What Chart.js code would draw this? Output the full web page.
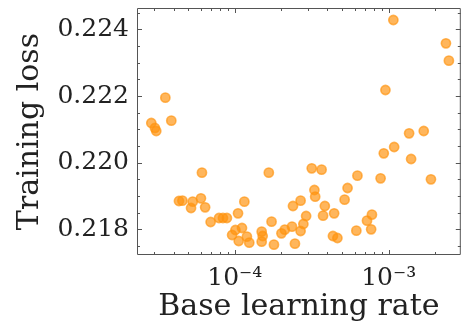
<!DOCTYPE html>
<html>
<head>
<meta charset="utf-8">
<script src="https://cdn.jsdelivr.net/npm/chart.js@4"></script>
<style>
  html, body { margin: 0; padding: 0; background: #fff; }
  #wrap { width: 467px; height: 325px; }
</style>
</head>
<body>
<div id="wrap"><canvas id="lossChart" width="467" height="325"></canvas></div>
<script>
// base learning rate (x) vs training loss (y)
const learningRates = [
  2.87e-5, 3.03e-5, 3.09e-5, 3.54e-5, 3.87e-5, 6.12e-5, 4.34e-5, 4.57e-5, 5.33e-5, 5.20e-5,
  6.03e-5, 6.42e-5, 6.97e-5, 7.90e-5, 8.38e-5, 8.89e-5, 1.050e-4, 1.154e-4, 9.61e-5, 1.010e-4,
  1.114e-4, 1.061e-4, 1.199e-4, 1.242e-4, 1.496e-4, 1.518e-4, 1.496e-4, 1.734e-4, 1.797e-4, 1.664e-4,
  2.010e-4, 2.113e-4, 2.354e-4, 2.389e-4, 2.460e-4, 2.677e-4, 2.677e-4, 2.790e-4, 2.908e-4, 3.162e-4,
  3.665e-4, 3.291e-4, 3.330e-4, 3.847e-4, 3.746e-4, 4.421e-4, 4.343e-4, 4.642e-4, 5.170e-4, 5.404e-4,
  6.264e-4, 6.163e-4, 7.228e-4, 7.780e-4, 7.690e-4, 8.858e-4, 9.290e-4, 1.085e-3, 1.357e-3, 1.689e-3,
  1.398e-3, 1.881e-3, 9.524e-4, 1.072e-3, 2.354e-3, 2.460e-3
];
const trainingLoss = [
  0.22119, 0.22104, 0.22095, 0.22195, 0.22126, 0.21970, 0.21885, 0.21886, 0.21883, 0.21864,
  0.21893, 0.21866, 0.21822, 0.21834, 0.21834, 0.21834, 0.21848, 0.21883, 0.21783, 0.21798,
  0.21804, 0.21765, 0.21778, 0.21760, 0.21793, 0.21780, 0.21763, 0.21823, 0.21754, 0.21970,
  0.21788, 0.21799, 0.21808, 0.21870, 0.21757, 0.21886, 0.21795, 0.21816, 0.21840, 0.21983,
  0.21979, 0.21918, 0.21898, 0.21870, 0.21841, 0.21848, 0.21780, 0.21774, 0.21889, 0.21924,
  0.21961, 0.21796, 0.21826, 0.21844, 0.21800, 0.21953, 0.22028, 0.22047, 0.22088, 0.22095,
  0.22011, 0.21950, 0.22218, 0.22428, 0.22358, 0.22306
];

const xMajorTicks = [1e-4, 1e-3];
const xTickLabels = ['10\u207B\u2074', '10\u207B\u00B3'];
const yMajorTicks = [0.218, 0.220, 0.222, 0.224];

const X_MIN = 2.317e-5, X_MAX = 2.94e-3;
const Y_MIN = 0.21723, Y_MAX = 0.22464;

const points = learningRates.map((lr, i) => ({ x: lr, y: trainingLoss[i] }));

// matplotlib-style frame with inward ticks on every side
const frameTicks = {
  id: 'frameTicks',
  afterDraw(chart) {
    const { ctx, chartArea: a, scales } = chart;
    const xs = scales.x, ys = scales.y;
    ctx.save();
    ctx.strokeStyle = '#555';
    ctx.lineWidth = 1;
    ctx.beginPath();
    ctx.rect(a.left + 0.5, a.top + 0.5, a.right - a.left - 1, a.bottom - a.top - 1);
    ctx.stroke();

    function vTick(v, len) {
      const px = Math.round(xs.getPixelForValue(v)) + 0.5;
      if (px < a.left || px > a.right) return;
      ctx.moveTo(px, a.bottom); ctx.lineTo(px, a.bottom - len);
      ctx.moveTo(px, a.top); ctx.lineTo(px, a.top + len);
    }
    function hTick(v, len) {
      const py = Math.round(ys.getPixelForValue(v)) + 0.5;
      if (py < a.top || py > a.bottom) return;
      ctx.moveTo(a.left, py); ctx.lineTo(a.left + len, py);
      ctx.moveTo(a.right, py); ctx.lineTo(a.right - len, py);
    }
    ctx.beginPath();
    for (let k = -5; k <= -3; k++) {
      for (let m = 1; m <= 9; m++) {
        const v = m * Math.pow(10, k);
        if (v < X_MIN || v > X_MAX) continue;
        vTick(v, m === 1 ? 5 : 3);
      }
    }
    for (let v = 0.2175; v <= Y_MAX + 1e-9; v += 0.0005) {
      const major = yMajorTicks.some(t => Math.abs(t - v) < 1e-7);
      hTick(v, major ? 5 : 3);
    }
    ctx.stroke();
    ctx.restore();
  }
};

const serif = "'DejaVu Serif', 'Liberation Serif', serif";

new Chart(document.getElementById('lossChart').getContext('2d'), {
  type: 'scatter',
  data: {
    datasets: [{
      label: 'runs',
      data: points,
      pointRadius: 4.6,
      pointBorderWidth: 1.6,
      backgroundColor: 'rgba(255, 148, 15, 0.68)',
      borderColor: 'rgba(255, 148, 15, 0.68)'
    }]
  },
  options: {
    responsive: false,
    animation: false,
    events: [],
    layout: { padding: { left: 0, right: 2, top: 8, bottom: 0 } },
    plugins: {
      legend: { display: false },
      tooltip: { enabled: false }
    },
    scales: {
      x: {
        type: 'logarithmic',
        min: X_MIN,
        max: X_MAX,
        grid: { display: false, drawTicks: false },
        border: { display: false },
        afterBuildTicks: s => { s.ticks = xMajorTicks.map(v => ({ value: v, major: true })); },
        afterFit: s => { s.height = 70; s.paddingLeft = 0; s.paddingRight = 0; },
        ticks: {
          autoSkip: false,
          maxRotation: 0,
          padding: 8,
          color: '#222',
          font: { family: serif, size: 25 },
          callback: (v) => {
            const i = xMajorTicks.findIndex(t => Math.abs(t - v) / t < 1e-6);
            return i >= 0 ? xTickLabels[i] : '';
          }
        },
        title: {
          display: true,
          text: 'Base learning rate',
          color: '#222',
          font: { family: serif, size: 30 },
          padding: { top: 0, bottom: 0 }
        }
      },
      y: {
        min: Y_MIN,
        max: Y_MAX,
        grid: { display: false, drawTicks: false },
        border: { display: false },
        afterBuildTicks: s => { s.ticks = yMajorTicks.map(v => ({ value: v })); },
        afterFit: s => { s.width = 137; s.paddingTop = 0; s.paddingBottom = 0; },
        ticks: {
          padding: 8,
          color: '#222',
          font: { family: serif, size: 25 },
          callback: v => Number(v).toFixed(3)
        },
        title: {
          display: true,
          text: 'Training loss',
          color: '#222',
          font: { family: serif, size: 30 },
          padding: { top: 12, bottom: 0 }
        }
      }
    }
  },
  plugins: [frameTicks]
});
</script>
</body>
</html>
